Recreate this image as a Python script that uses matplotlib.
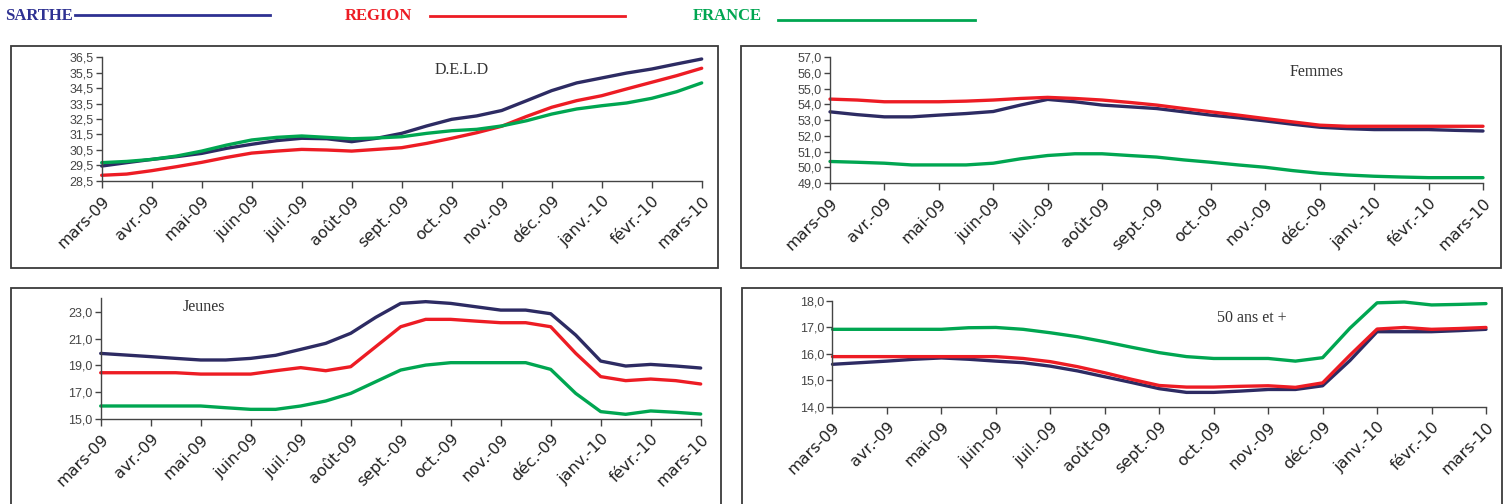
import numpy as np
import matplotlib
matplotlib.use("Agg")
import matplotlib.pyplot as plt
from matplotlib.patches import Rectangle
from matplotlib.lines import Line2D

W, H = 1506, 504

# ---------------- data ----------------
months = ["mars-09", "avr.-09", "mai-09", "juin-09", "juil.-09", "août-09", "sept.-09",
          "oct.-09", "nov.-09", "déc.-09", "janv.-10", "févr.-10", "mars-10"]
series_names = ["SARTHE", "REGION", "FRANCE"]
# values sampled every half month (25 points: mars-09 ... mars-10)
deld_sarthe = [29.45, 29.67, 29.88, 30.06, 30.27, 30.6, 30.86, 31.1, 31.25, 31.22, 31.03, 31.25, 31.57,
               32.05, 32.48, 32.7, 33.05, 33.69, 34.34, 34.84, 35.16, 35.48, 35.74, 36.07, 36.39]
deld_region = [28.85, 28.93, 29.15, 29.41, 29.69, 30.01, 30.29, 30.42, 30.53, 30.49, 30.42, 30.53, 30.64,
               30.92, 31.25, 31.61, 32.03, 32.67, 33.26, 33.69, 34.01, 34.45, 34.88, 35.31, 35.79]
deld_france = [29.67, 29.75, 29.88, 30.1, 30.42, 30.81, 31.14, 31.31, 31.4, 31.31, 31.22, 31.27, 31.35,
               31.57, 31.74, 31.83, 32.05, 32.39, 32.82, 33.15, 33.36, 33.54, 33.84, 34.27, 34.84]

fem_sarthe = [53.53, 53.35, 53.21, 53.21, 53.32, 53.42, 53.55, 53.96, 54.32, 54.17, 53.96, 53.85, 53.74,
              53.53, 53.32, 53.15, 52.95, 52.74, 52.55, 52.46, 52.4, 52.4, 52.4, 52.35, 52.31]
fem_region = [54.34, 54.28, 54.17, 54.17, 54.17, 54.21, 54.28, 54.38, 54.45, 54.38, 54.28, 54.13, 53.96,
              53.74, 53.53, 53.32, 53.1, 52.89, 52.68, 52.61, 52.61, 52.61, 52.61, 52.61, 52.61]
fem_france = [50.37, 50.32, 50.26, 50.15, 50.15, 50.15, 50.26, 50.54, 50.75, 50.86, 50.86, 50.75, 50.65,
              50.47, 50.32, 50.15, 50.0, 49.79, 49.62, 49.51, 49.43, 49.38, 49.34, 49.34, 49.34]

jeu_sarthe = [19.89, 19.77, 19.65, 19.52, 19.4, 19.4, 19.52, 19.75, 20.19, 20.64, 21.39, 22.58, 23.62,
              23.75, 23.62, 23.37, 23.12, 23.12, 22.85, 21.26, 19.32, 18.95, 19.07, 18.95, 18.8]
jeu_region = [18.45, 18.45, 18.45, 18.45, 18.35, 18.35, 18.35, 18.6, 18.83, 18.6, 18.9, 20.39, 21.88,
              22.43, 22.43, 22.3, 22.18, 22.18, 21.88, 19.9, 18.16, 17.86, 17.98, 17.86, 17.61]
jeu_france = [15.97, 15.97, 15.97, 15.97, 15.97, 15.84, 15.72, 15.72, 15.97, 16.34, 16.91, 17.78, 18.65,
              19.02, 19.2, 19.2, 19.2, 19.2, 18.7, 16.91, 15.55, 15.35, 15.6, 15.5, 15.37]

s50_sarthe = [15.6, 15.66, 15.72, 15.79, 15.84, 15.79, 15.72, 15.66, 15.53, 15.35, 15.13, 14.91, 14.68,
              14.54, 14.54, 14.59, 14.65, 14.65, 14.79, 15.74, 16.83, 16.83, 16.83, 16.87, 16.92]
s50_region = [15.89, 15.89, 15.89, 15.89, 15.89, 15.89, 15.89, 15.82, 15.7, 15.51, 15.28, 15.03, 14.8,
              14.74, 14.74, 14.77, 14.79, 14.73, 14.9, 15.94, 16.93, 16.99, 16.92, 16.95, 16.99]
s50_france = [16.92, 16.92, 16.92, 16.92, 16.92, 16.98, 16.99, 16.92, 16.79, 16.64, 16.45, 16.24, 16.04,
              15.89, 15.82, 15.82, 15.82, 15.72, 15.85, 16.96, 17.92, 17.95, 17.84, 17.86, 17.89]

titles = ["D.E.L.D", "Femmes", "Jeunes", "50 ans et +"]

# ---------------- style ----------------
col_s = "#2D2B63"
col_r = "#ED1C24"
col_f = "#00A651"
leg_s = "#2E3192"

fig = plt.figure(figsize=(W / 100, H / 100), dpi=100)


def fx(px):
    return px / W


def fy(py):
    return 1 - py / H


def add_axes(x0, x1, ytop, ybot):
    return fig.add_axes([fx(x0), fy(ybot), fx(x1) - fx(x0), (ybot - ytop) / H])


# panel frames
for (x0, y0, x1, y1) in [(11, 46, 718, 268), (741, 46, 1501, 268),
                         (11, 288, 721, 515), (742, 288, 1502, 515)]:
    fig.patches.append(Rectangle((fx(x0), fy(y1)), fx(x1) - fx(x0), (y1 - y0) / H,
                                 transform=fig.transFigure, fill=False,
                                 edgecolor="#3a3a3a", linewidth=1.3))

panels = [
    (dict(x0=101.7, x1=701.7, ytop=57.3, ybot=180.7), (28.5, 36.5), np.arange(28.5, 36.6, 1.0),
     (deld_sarthe, deld_region, deld_france), (462, 70)),
    (dict(x0=830, x1=1483, ytop=57.3, ybot=183), (49, 57), np.arange(49, 57.1, 1.0),
     (fem_sarthe, fem_region, fem_france), (1317, 72)),
    (dict(x0=100.7, x1=700.7, ytop=298.3, ybot=419), (15, 24), np.arange(15, 23.1, 2.0),
     (jeu_sarthe, jeu_region, jeu_france), (204, 307)),
    (dict(x0=832.5, x1=1486, ytop=300.7, ybot=406.7), (14, 18), np.arange(14, 18.1, 1.0),
     (s50_sarthe, s50_region, s50_france), (1252, 318)),
]

xh = np.arange(25) / 2.0

for i, (box, ylim, yt, data, tpos) in enumerate(panels):
    ax = add_axes(**box)
    for vals, c in zip(data, (col_s, col_r, col_f)):
        ax.plot(xh, vals, color=c, lw=2.4, solid_joinstyle="round",
                solid_capstyle="round", clip_on=False)
    ax.set_xlim(0, 12)
    ax.set_ylim(*ylim)
    ax.set_yticks(yt)
    ax.set_yticklabels([f"{v:.1f}".replace(".", ",") for v in yt],
                       family="Liberation Sans", fontsize=9, color="#444444")
    ax.set_xticks(np.arange(13))
    ax.set_xticklabels(months, rotation=45, ha="right", rotation_mode="anchor",
                       family="DejaVu Sans", fontsize=11.5, color="#222222")
    for s in ("top", "right"):
        ax.spines[s].set_visible(False)
    for s in ("left", "bottom"):
        ax.spines[s].set_color("#444444")
        ax.spines[s].set_linewidth(1.0)
    ax.tick_params(axis="y", length=4, width=1, color="#444444", pad=2)
    ax.tick_params(axis="x", length=5, width=1, color="#444444", pad=4)
    ax.patch.set_alpha(0)
    fig.text(fx(tpos[0]), fy(tpos[1]), titles[i], family="Liberation Serif",
             fontsize=11.5, color="#333333", ha="center", va="center")

# legend at top
for name, tx, l0, l1, ly, c in [("SARTHE", 5, 75, 270, 14.5, leg_s),
                                ("REGION", 345, 430, 625, 15.5, col_r),
                                ("FRANCE", 693, 778, 975, 20, col_f)]:
    fig.text(fx(tx), fy(16), name, family="Liberation Serif", fontweight="bold",
             fontsize=12, color=c, ha="left", va="center")
    fig.add_artist(Line2D([fx(l0), fx(l1)], [fy(ly), fy(ly)], transform=fig.transFigure,
                          color=c, lw=2.0))

fig.savefig("out.png", dpi=100)
